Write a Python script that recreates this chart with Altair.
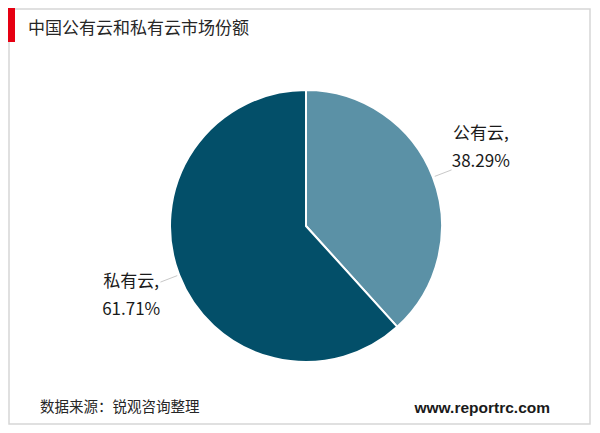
import altair as alt
import pandas as pd

# ---- data ----
categories = ["公有云", "私有云"]
shares = [38.29, 61.71]
colors = ["#5B91A6", "#034F69"]
title_text = "中国公有云和私有云市场份额"
source_text = "数据来源：锐观咨询整理"
site_text = "www.reportrc.com"

FONT = "Noto Sans CJK SC"
CX, CY, R = 298, 218, 136
R_L1, R_L2, R_TXT = 138, 156, 190
TXT_SHIFT = -2 * 3.141592653589793 / 180  # small angular shift of labels

df = pd.DataFrame({
    "cat": categories,
    "share": shares,
    "idx": list(range(len(categories))),
})
df["label"] = [f"{c},\n{s:.2f}%" for c, s in zip(categories, shares)]

dummy = pd.DataFrame({"a": [0]})

base = (
    alt.Chart(df)
    .transform_window(cum="sum(share)", sort=[alt.SortField("idx")])
    .transform_joinaggregate(total="sum(share)")
    .transform_calculate(mid="2*PI*(datum.cum - datum.share/2)/datum.total")
)

pie = alt.Chart(df).mark_arc(
    outerRadius=R, stroke="white", strokeWidth=2, x=CX, y=CY
).encode(
    theta=alt.Theta("share:Q", stack=True),
    color=alt.Color("cat:N", scale=alt.Scale(domain=categories, range=colors), legend=None),
    order=alt.Order("idx:Q"),
)

leaders = base.transform_calculate(
    x1=f"{CX} + {R_L1}*sin(datum.mid)",
    y1=f"{CY} - {R_L1}*cos(datum.mid)",
    x2=f"{CX} + {R_L2}*sin(datum.mid)",
    y2=f"{CY} - {R_L2}*cos(datum.mid)",
).mark_rule(color="#c8c8c8", strokeWidth=1).encode(
    x=alt.X("x1:Q", scale=None, axis=None),
    y=alt.Y("y1:Q", scale=None, axis=None),
    x2="x2:Q",
    y2="y2:Q",
)

labels = base.transform_calculate(
    lx=f"{CX} + {R_TXT}*sin(datum.mid + {TXT_SHIFT})",
    ly=f"{CY} - {R_TXT}*cos(datum.mid + {TXT_SHIFT})",
).mark_text(
    lineBreak="\n", fontSize=17, font=FONT, lineHeight=28,
    align="center", baseline="middle", color="#1a1a1a", dy=-18,
).encode(
    x=alt.X("lx:Q", scale=None, axis=None),
    y=alt.Y("ly:Q", scale=None, axis=None),
    text="label:N",
)

border = alt.Chart(dummy).mark_rect(
    fill=None, stroke="#d6d6d6", strokeWidth=1.5
).encode(
    x=alt.value(1), x2=alt.value(582), y=alt.value(1), y2=alt.value(416)
)

redbar = alt.Chart(dummy).mark_rect(color="#E60012").encode(
    x=alt.value(0), x2=alt.value(7), y=alt.value(0), y2=alt.value(34)
)

title = alt.Chart(dummy).mark_text(
    text=title_text, font=FONT, fontSize=17, color="#262626",
    align="left", baseline="middle",
).encode(x=alt.value(20), y=alt.value(21))

source = alt.Chart(dummy).mark_text(
    text=source_text, font=FONT, fontSize=14.5, color="#262626",
    align="left", baseline="middle",
).encode(x=alt.value(32), y=alt.value(400))

site = alt.Chart(dummy).mark_text(
    text=site_text, font="Liberation Sans", fontSize=15.5, fontWeight="bold",
    color="#1a1a1a", align="right", baseline="middle",
).encode(x=alt.value(542), y=alt.value(400))

chart = alt.layer(border, redbar, title, pie, leaders, labels, source, site).properties(
    width=584, height=417,
    autosize=alt.AutoSizeParams(type="fit", contains="padding"),
    padding=0,
    background="white",
).configure_view(stroke=None)

chart.save("out.html", embed_options={"renderer": "svg", "actions": False})
